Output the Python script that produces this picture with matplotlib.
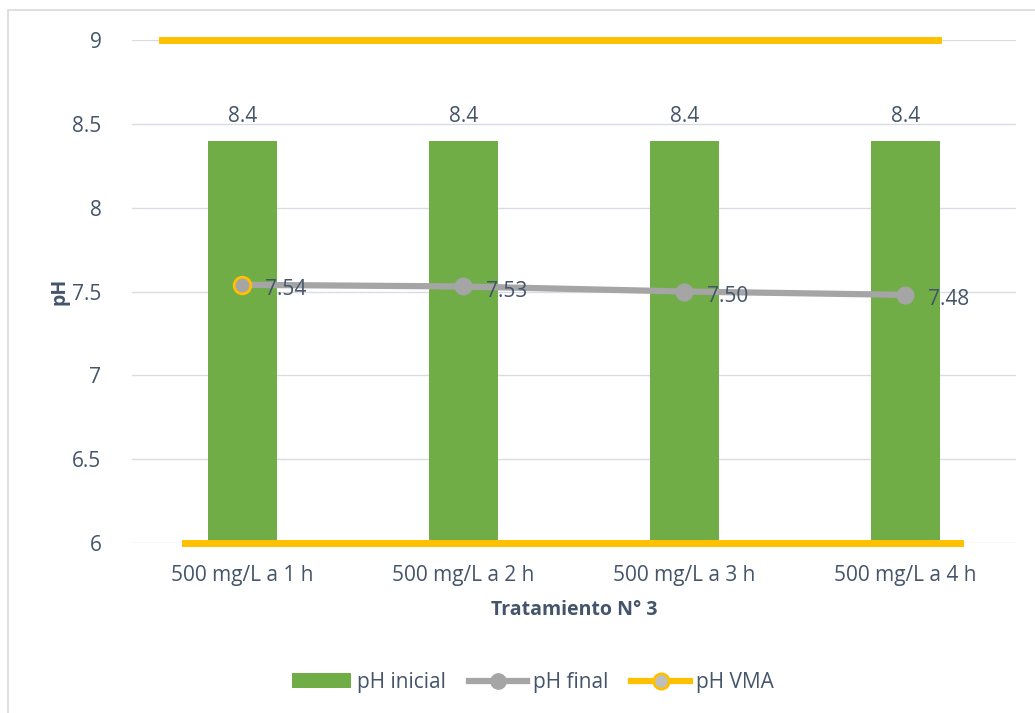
import matplotlib.pyplot as plt
from matplotlib.lines import Line2D
from matplotlib.patches import Patch, Rectangle

plt.rcParams['font.family'] = ['Open Sans', 'DejaVu Sans']

categories = ['500 mg/L a 1 h', '500 mg/L a 2 h', '500 mg/L a 3 h', '500 mg/L a 4 h']
ph_inicial = [8.4, 8.4, 8.4, 8.4]
ph_final = [7.54, 7.53, 7.50, 7.48]
ph_vma_max = 9
ph_vma_min = 6

txt = '#44546A'
green = '#70AD47'
gray = '#A5A5A5'
yellow = '#FFC000'
fs = 15

fig = plt.figure(figsize=(10.35, 7.13), dpi=100)
ax = fig.add_axes([0.1275, 0.2384, 0.8541, 0.7055])
fig.patches.append(Rectangle((0.008, -0.01), 1.0, 0.996, transform=fig.transFigure,
                             fill=False, edgecolor='#D9D9D9', linewidth=1.2))

x = list(range(len(categories)))
ax.bar(x, ph_inicial, width=0.316, color=green, zorder=2)
for xi, v in zip(x, ph_inicial):
    ax.text(xi, v + 0.08, f'{v:.1f}', ha='center', va='bottom', fontsize=fs, color=txt)

ax.plot(x, ph_final, color=gray, linewidth=4.5, marker='o', markersize=12,
        markerfacecolor=gray, markeredgecolor=gray, zorder=3)
ax.plot(x[0], ph_final[0], marker='o', markersize=12, markerfacecolor=gray,
        markeredgecolor=yellow, markeredgewidth=2, zorder=4)
for xi, v in zip(x, ph_final):
    ax.text(xi + 0.1, v - 0.03, f'{v:.2f}', ha='left', va='center', fontsize=fs, color=txt, zorder=5)

ax.axhline(ph_vma_max, xmin=0.034, xmax=0.912, color=yellow, linewidth=5, zorder=3, clip_on=False)
ax.axhline(ph_vma_min, xmin=0.06, xmax=0.937, color=yellow, linewidth=5, zorder=3, clip_on=False)

ax.set_xlim(-0.5, 3.5)
ax.set_ylim(6, 9)
ax.set_yticks([6, 6.5, 7, 7.5, 8, 8.5, 9])
ax.set_yticklabels(['6', '6.5', '7', '7.5', '8', '8.5', '9'])
ax.set_xticks(x)
ax.set_xticklabels(categories)
ax.tick_params(axis='both', length=0, labelsize=fs, labelcolor=txt)
ax.tick_params(axis='y', pad=22)
ax.tick_params(axis='x', pad=16)
ax.grid(axis='y', color='#D9DCE3', linewidth=1, zorder=0)
ax.set_axisbelow(True)
for s in ax.spines.values():
    s.set_visible(False)

ax.set_ylabel('pH', fontsize=14, fontweight='bold', color=txt, labelpad=2)
ax.set_xlabel('Tratamiento N° 3', fontsize=14, fontweight='bold', color=txt, labelpad=10)

handles = [
    Patch(facecolor=green),
    Line2D([0], [0], color=gray, linewidth=4.5, marker='o', markersize=11,
           markerfacecolor=gray, markeredgecolor=gray),
    Line2D([0], [0], color=yellow, linewidth=4.5, marker='o', markersize=11,
           markerfacecolor='#BFBFBF', markeredgecolor=yellow, markeredgewidth=2),
]
fig.legend(handles, ['pH inicial', 'pH final', 'pH VMA'], loc='center',
           bbox_to_anchor=(0.515, 0.043), ncol=3, frameon=False, fontsize=fs,
           labelcolor=txt, handlelength=2.8, columnspacing=1.1, handletextpad=0.3)

fig.savefig('out.png', dpi=100)
